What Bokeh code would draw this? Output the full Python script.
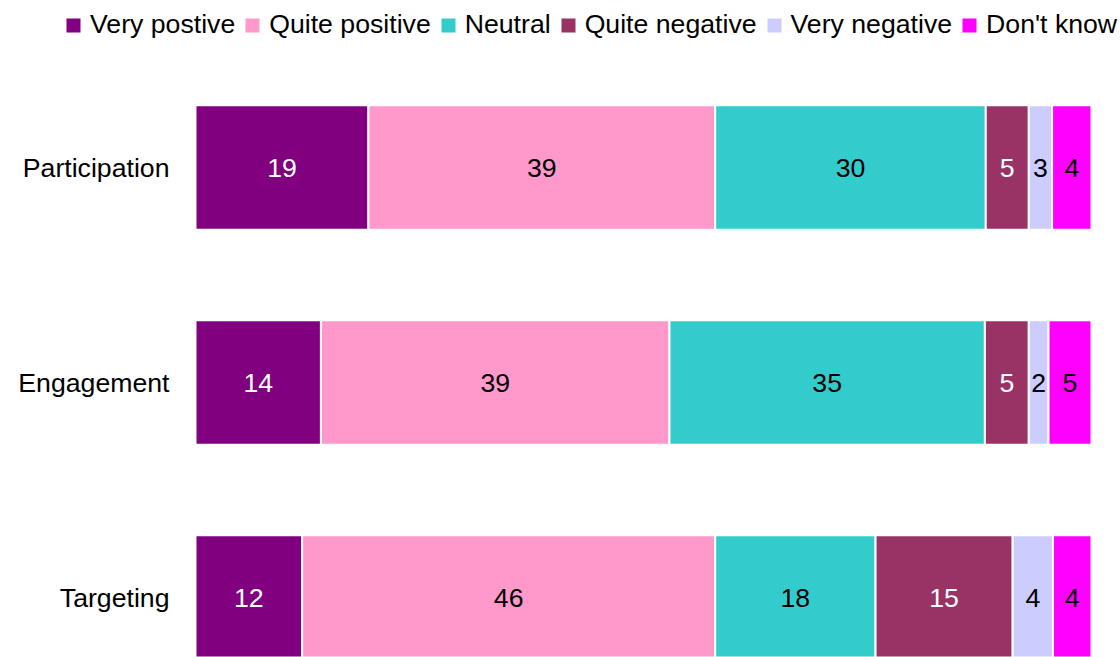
from bokeh.plotting import figure
from bokeh.models import ColumnDataSource, Range1d, FixedTicker, LabelSet, Legend, LegendItem, LinearAxis
from bokeh.core.properties import value
from bokeh.embed import file_html
from bokeh.resources import INLINE

# ---- data ----
categories = ["Targeting", "Engagement", "Participation"]
series = ["Very postive", "Quite positive", "Neutral", "Quite negative", "Very negative", "Don't know"]

very_positive = [11.9, 14.0, 19.3]
quite_positive = [46.1, 38.9, 38.7]
neutral = [17.9, 35.2, 30.2]
quite_negative = [15.3, 4.9, 4.8]
very_negative = [4.5, 2.2, 2.6]
dont_know = [4.3, 4.8, 4.4]

labels_very_positive = ["12", "14", "19"]
labels_quite_positive = ["46", "39", "39"]
labels_neutral = ["18", "35", "30"]
labels_quite_negative = ["15", "5", "5"]
labels_very_negative = ["4", "2", "3"]
labels_dont_know = ["4", "5", "4"]

colors = ["#800080", "#FF99CC", "#33CCCC", "#993366", "#CCCCFF", "#FF00FF"]
label_colors = ["#FFFFFF", "#000000", "#000000", "#FFFFFF", "#000000", "#000000"]

values = [very_positive, quite_positive, neutral, quite_negative, very_negative, dont_know]
labels = [labels_very_positive, labels_quite_positive, labels_neutral,
          labels_quite_negative, labels_very_negative, labels_dont_know]

FONT = "Liberation Sans"
FSIZE = "26.67px"
W, H = 1120, 657
PX_PER_UNIT = 8.96          # horizontal scale (px per percentage point)
X0_PX = 195                 # where 0% sits
ROW_PX = 215                # vertical distance between bars
TOP_PX = 167                # centre of the first bar from the top

ypos = list(range(len(categories)))
n = len(categories)

x_start = -X0_PX / PX_PER_UNIT
x_end = (W - X0_PX) / PX_PER_UNIT
y_end = (n - 1) + TOP_PX / ROW_PX
y_start = y_end - H / ROW_PX

p = figure(width=W, height=H, output_backend="svg", toolbar_location=None,
           x_range=Range1d(x_start, x_end), y_range=Range1d(y_start, y_end),
           x_axis_type=None, y_axis_type=None,
           min_border_left=0, min_border_right=0, min_border_top=0, min_border_bottom=0)
p.grid.visible = False
p.outline_line_color = None

yax = LinearAxis(fixed_location=0)
yax.ticker = FixedTicker(ticks=ypos)
yax.major_label_overrides = {i: c for i, c in zip(ypos, categories)}
yax.axis_line_color = None
yax.major_tick_line_color = None
yax.minor_tick_line_color = None
yax.major_tick_out = 0
yax.major_tick_in = 0
yax.major_label_standoff = 26
yax.major_label_text_font = FONT
yax.major_label_text_font_size = FSIZE
yax.major_label_text_color = "#000000"
p.add_layout(yax, "left")

left = [0.0] * n
items = []
for name, vals, labs, col, lcol in zip(series, values, labels, colors, label_colors):
    right = [l + v for l, v in zip(left, vals)]
    mid = [(l + r) / 2 for l, r in zip(left, right)]
    src = ColumnDataSource(dict(y=ypos, left=left, right=right, mid=mid, lab=labs))
    r = p.hbar(y="y", left="left", right="right", height=0.58, source=src,
               fill_color=col, line_color="white", line_width=2)
    items.append(LegendItem(label=name, renderers=[r]))
    p.add_layout(LabelSet(x="mid", y="y", text="lab", source=src,
                          text_align="center", text_baseline="middle",
                          text_font=value(FONT), text_font_size=value(FSIZE),
                          text_color=lcol))
    left = right

legend = Legend(items=items, location=(63, 617), orientation="horizontal",
                glyph_width=20, glyph_height=20, label_standoff=7, spacing=7,
                padding=0, margin=0, label_height=20,
                label_text_font=FONT, label_text_font_size=FSIZE, label_text_color="#000000",
                border_line_color=None, background_fill_alpha=0)
p.add_layout(legend)

open("out.html", "w").write(file_html(p, INLINE))
